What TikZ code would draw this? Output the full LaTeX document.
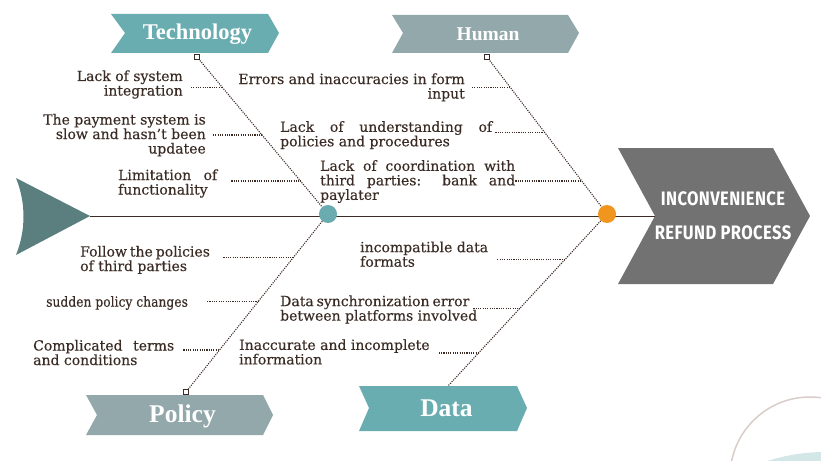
\documentclass[tikz,border=0pt]{standalone}
\usepackage{fontspec}
\usepackage{graphicx}
\setmainfont{DejaVu Serif}[FakeBold=0.3]
\newfontfamily\headfont{Liberation Serif}
\newfontfamily\boxfont{Fira Sans}[FakeStretch=0.85, LetterSpace=2]
\usetikzlibrary{calc}

\definecolor{ink}{HTML}{3A2B24}
\definecolor{tealhead}{HTML}{6AADB0}
\definecolor{grayhead}{HTML}{93A8AA}
\definecolor{tailcol}{HTML}{5B7F7E}
\definecolor{effectcol}{HTML}{727272}
\definecolor{hubteal}{HTML}{6AABAF}
\definecolor{huborange}{HTML}{F0961E}
\definecolor{ringcol}{HTML}{D9CDC9}
\definecolor{pale}{HTML}{D3E7E8}

% justified line of a cause text, and a last line padded to the same width
\newcommand\fullline[2]{\makebox[#1][s]{#2}}
\newcommand\lastline[2]{\makebox[#1][l]{#2}}
\newcommand\causefont{\fontsize{14}{14.5}\selectfont}

\tikzset{
  cause/.style={font=\causefont, text=ink, inner sep=0pt},
  head/.style={text=white, inner sep=0pt, anchor=base},
  bone/.style={draw=ink, line width=1.1pt, dash pattern=on 1.1pt off 1.2pt},
  twig/.style={draw=ink, line width=1.1pt, dash pattern=on 1.1pt off 1.2pt},
  endmark/.style={draw=ink, fill=white, line width=1pt, rectangle,
    minimum size=4.5pt, inner sep=0pt},
  hub/.style={circle, minimum size=18pt, inner sep=0pt},
}

\begin{document}
\begin{tikzpicture}[x=1pt, y=-1pt]
\useasboundingbox (0,0) rectangle (821,460);

% decorative rings in the lower right corner
\fill[pale] (825,640) circle (188);
\draw[ringcol, line width=1.5pt] (810,477) circle (80);

% fish tail
\fill[tailcol] (16,178) -- (90,216) -- (16,255)
  .. controls (26,230) and (26,203) .. (16,178);
\coordinate (tailtip) at (90,216);

% effect (head of the fish)
\fill[effectcol] (618,148) -- (773,148) -- (810,216) -- (773,284)
  -- (618,284) -- (655,216) -- cycle;
\coordinate (effnotch) at (655,216);
\node[text=white, inner sep=0pt, anchor=base,
  font=\boxfont\bfseries\fontsize{19.5}{19.5}\selectfont]
  (eff1) at (723,205.7) {INCONVENIENCE};
\node[text=white, inner sep=0pt, anchor=base,
  font=\boxfont\bfseries\fontsize{19.5}{19.5}\selectfont]
  (eff2) at (723,239.3) {REFUND PROCESS};

% spine
\draw[ink, line width=1pt] (tailtip) -- (effnotch);

% category banners
\fill[tealhead] (111,14) -- (268,14) -- (279,33) -- (268,53) -- (111,53) -- (125,33) -- cycle;
\fill[grayhead] (392,15) -- (568,15) -- (579,33) -- (568,53) -- (392,53) -- (403,33) -- cycle;
\fill[grayhead] (86,395) -- (263,395) -- (273,415) -- (263,435) -- (86,435) -- (97,415) -- cycle;
\fill[tealhead] (359,386) -- (517,386) -- (527,408) -- (517,431) -- (359,431) -- (369,408) -- cycle;

\node[head, font=\headfont\bfseries\fontsize{22.5}{22.5}\selectfont] (tech) at (197.5,39.3) {Technology};
\node[head, font=\headfont\bfseries\fontsize{19.5}{19.5}\selectfont] (human) at (488,40.7) {Human};
\node[head, font=\headfont\bfseries\fontsize{25.5}{25.5}\selectfont] (policy) at (182.5,422.7) {Policy};
\node[head, font=\headfont\bfseries\fontsize{25.5}{25.5}\selectfont] (data) at (446.5,416.7) {Data};

% bone ends and hubs
\coordinate (tsq) at (197,57);
\coordinate (hsq) at (487,57);
\coordinate (psq) at (186,392);
\coordinate (dtop) at (448,386);
\coordinate (tc) at (328,214);
\coordinate (oc) at (607,214);

\draw[bone] (tsq) -- (tc);
\draw[bone] (tc) -- (psq);
\draw[bone] (hsq) -- (oc);
\draw[bone] (oc) -- (dtop);

% attachment points of the causes on the bones
\coordinate (t1b) at ($(tsq)!0.194!(tc)$);
\coordinate (t2b) at ($(tsq)!0.497!(tc)$);
\coordinate (t3b) at ($(tsq)!0.790!(tc)$);
\coordinate (h1b) at ($(hsq)!0.197!(oc)$);
\coordinate (h2b) at ($(hsq)!0.481!(oc)$);
\coordinate (h3b) at ($(hsq)!0.790!(oc)$);
\coordinate (p1b) at ($(tc)!0.242!(psq)$);
\coordinate (p2b) at ($(tc)!0.494!(psq)$);
\coordinate (p3b) at ($(tc)!0.764!(psq)$);
\coordinate (d1b) at ($(oc)!0.262!(dtop)$);
\coordinate (d2b) at ($(oc)!0.547!(dtop)$);
\coordinate (d3b) at ($(oc)!0.808!(dtop)$);

% Technology causes (anchored at the baseline of their last line)
\node[cause, align=right, anchor=base east] (t1) at (183,95.5)
  {Lack of system\\integration};
\node[cause, align=right, anchor=base east] (t2) at (206,153.5)
  {The payment system is\\slow and hasn’t been\\updatee};
\node[cause, align=left, anchor=base west] (t3) at (118,194.5)
  {\fullline{99pt}{Limitation of}\\\lastline{99pt}{functionality}};

% Human causes
\node[cause, align=right, anchor=base east] (h1) at (465,98.5)
  {Errors and inaccuracies in form\\input};
\node[cause, align=left, anchor=base west] (h2) at (280,146.3)
  {\fullline{212pt}{Lack of understanding of}\\\lastline{212pt}{policies and procedures}};
\node[cause, align=left, anchor=base west] (h3) at (320,199.8)
  {\fullline{195pt}{Lack of coordination with}\\\fullline{195pt}{third parties: bank and}\\\lastline{195pt}{paylater}};

% Policy causes
\node[cause, align=left, anchor=base west] (p1) at (80,271)
  {\fullline{128pt}{Follow the policies}\\\lastline{128pt}{of third parties}};
\node[cause, anchor=base west] (p2) at (46,306.7)
  {\scalebox{0.88}[1]{sudden policy changes}};
\node[cause, align=left, anchor=base west] (p3) at (33,365)
  {\fullline{141pt}{Complicated terms}\\\lastline{141pt}{and conditions}};

% Data causes
\node[cause, align=left, anchor=base west] (d1) at (360,266.7)
  {incompatible data\\formats};
\node[cause, align=left, anchor=base west] (d2) at (280,320.6)
  {\fullline{183pt}{Data synchronization error}\\\lastline{183pt}{between platforms involved}};
\node[cause, align=left, anchor=base west] (d3) at (239,364.4)
  {Inaccurate and incomplete\\information};

% twigs from the causes to their bones
\draw[twig] ([xshift=8pt]t1.east |- t1b) -- (t1b);
\draw[twig] ([xshift=7pt]t2.east |- t2b) -- (t2b);
\draw[twig] ([xshift=14pt]t3.east |- t3b) -- (t3b);
\draw[twig] ([xshift=7pt]h1.east |- h1b) -- (h1b);
\draw[twig] ([xshift=3pt]h2.east |- h2b) -- (h2b);
\draw[twig] ([xshift=0pt]h3.east |- h3b) -- (h3b);
\draw[twig] ([xshift=15pt]p1.east |- p1b) -- (p1b);
\draw[twig] ([xshift=19pt]p2.east |- p2b) -- (p2b);
\draw[twig] ([xshift=9pt]p3.east |- p3b) -- (p3b);
\draw[twig] ([xshift=9pt]d1.east |- d1b) -- (d1b);
\draw[twig] ([xshift=10pt]d2.east |- d2b) -- (d2b);
\draw[twig] ([xshift=9pt]d3.east |- d3b) -- (d3b);

% end marks of the top and policy bones
\node[endmark] (tmark) at (tsq) {};
\node[endmark] (hmark) at (hsq) {};
\node[endmark] (pmark) at (psq) {};

% hubs on the spine
\node[hub, fill=hubteal] (techhub) at (tc) {};
\node[hub, fill=huborange] (humanhub) at (oc) {};
\end{tikzpicture}
\end{document}
